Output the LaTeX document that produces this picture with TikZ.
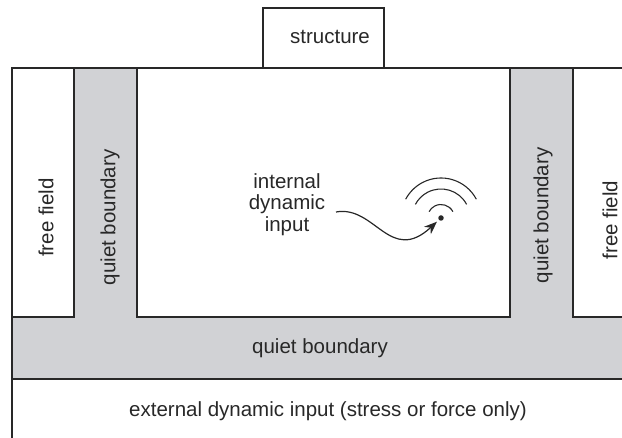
\documentclass[tikz,border=0pt]{standalone}
\usepackage{fontspec}
\setmainfont{Liberation Sans}
\usetikzlibrary{arrows.meta}
\definecolor{qgray}{RGB}{209,210,213}
\definecolor{ink}{RGB}{40,40,40}

\begin{document}
\begin{tikzpicture}[x=1pt, y=1pt, line width=1.4pt, draw=ink,
    every node/.style={text=ink, font=\fontsize{20.5}{21.5}\selectfont},
    vlabel/.style={rotate=90},
    wave/.style={line width=1.1pt}]
    \useasboundingbox (0,0) rectangle (622,438);

    % quiet boundary band
    \fill[qgray] (74,370) -- (74,121) -- (12,121) -- (12,59) -- (622,59) -- (622,121) --
        (573,121) -- (573,370) -- (510,370) -- (510,121) -- (137,121) -- (137,370) -- cycle;
    \draw (74,370) -- (74,121) -- (12,121);
    \draw (137,370) -- (137,121) -- (510,121) -- (510,370);
    \draw (573,370) -- (573,121) -- (622,121);
    \draw (12,59) -- (622,59);
    \draw (12,0) -- (12,370) -- (622,370);

    % structure on top
    \draw (263,370) rectangle (384,430);
    \node (structure) at (330,401) {structure};

    \node[vlabel] (ffl) at (46,220.5) {free field};
    \node[vlabel] (qbl) at (110,220.5) {quiet boundary};
    \node[vlabel] (qbr) at (543,222.5) {quiet boundary};
    \node[vlabel] (ffr) at (610,218) {free field};
    \node (qbb) at (320,89.5) {quiet boundary};
    \node (ext) at (328,27) {external dynamic input (stress or force only)};

    % internal source
    \node[align=center] (internal) at (287,233.5) {internal\\dynamic\\input};
    \node[circle, fill=ink, inner sep=0pt, minimum size=5.5pt] (src) at (441,220) {};
    \foreach \r in {13.5,29,40}
        \draw[wave] ([shift={(28:\r)}]src.center) arc[start angle=28, end angle=152, radius=\r];
    \coordinate (tail) at (336,226);
    \draw[line width=1.2pt, shorten >=2pt, -{Stealth[length=13pt, width=10pt]}]
        (tail) .. controls (375,233) and (390,173) .. (src);
\end{tikzpicture}
\end{document}
